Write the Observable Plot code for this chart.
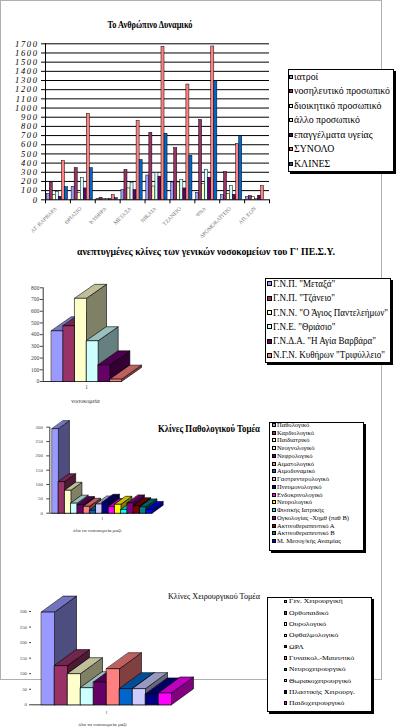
<!DOCTYPE html>
<html><head><meta charset="utf-8">
<script src="https://cdn.jsdelivr.net/npm/d3@7"></script>
<script src="https://cdn.jsdelivr.net/npm/@observablehq/plot@0.6"></script>
<style>
body{margin:0;background:#fff;}
#page{position:relative;width:397px;height:727px;overflow:hidden;background:#fff;font-family:"Liberation Serif","Times New Roman",serif;color:#000;}
.frame{position:absolute;left:0;top:0;width:382px;height:680px;border:1px solid #b0b0b0;box-sizing:border-box;}
.chart{position:absolute;}
.legend{position:absolute;background:#fff;border:1px solid #000;box-shadow:2px 2px 0 #000;box-sizing:border-box;}
</style>
</head><body><div id="page"><div class="frame"></div></div>
<script>
// ---------- DATA ----------
const hospitals = ["ΑΓ. ΒΑΡΒΑΡΑ","ΘΡΙΑΣΙΟ","ΚΥΘΗΡΑ","ΜΕΤΑΞΑ","ΝΙΚΑΙΑ","ΤΖΑΝΕΙΟ","ΨΝΑ","ΔΡΟΜΟΚΑΪΤΕΙΟ","ΑΠ. ΕΟΝ"];
const staffSeries = ["ιατροί","νοσηλευτικό προσωπικό","διοικητικό προσωπικό","άλλο προσωπικό","επαγγέλματα υγείας","ΣΥΝΟΛΟ","ΚΛΙΝΕΣ"];
const doctors    = [65, 142, 11, 106, 265, 189, 76, 51, 29];
const nursing    = [190, 346, 22, 324, 730, 564, 870, 302, 40];
const admin      = [50, 73, 7, 124, 145, 189, 175, 66, 29];
const otherStaff = [87, 237, 7, 186, 294, 218, 328, 149, 11];
const healthProf = [33, 124, 7, 106, 252, 124, 240, 55, 44];
const total      = [422, 935, 51, 859, 1668, 1256, 1671, 608, 149];
const beds       = [138, 346, 18, 433, 720, 480, 1292, 695, 0];
const staffTicks = [0,100,200,300,400,500,600,700,800,900,1000,1100,1200,1300,1400,1500,1600,1700];

const generalHospitals = ['Γ.Ν.Π. "Μεταξά"','Γ.Ν.Π. "Τζάνειο"','Γ.Ν.Ν. "Ο Άγιος Παντελεήμων"','Γ.Ν.Ε. "Θριάσιο"','Γ.Ν.Δ.Α. "Η Αγία Βαρβάρα"','Ν.Γ.Ν. Κυθήρων "Τριφύλλειο"'];
const developedBeds = [433, 476, 710, 348, 142, 20];
const bedTicks = [0,100,200,300,400,500,600,700,800];

const pathologyClinics = ["Παθολογικό","Καρδιολογικό","Παιδιατρικό","Νεογνολογικό","Νεφρολογικό","Αιματολογικό","Αιμοδυναμικό","Γαστρεντερολογικό","Πνευμονολογικό","Ενδοκρινολογικό","Νευρολογικό","Φυσικής Ιατρικής","Ογκολογίας -Χημθ (παθ Β)","Ακτινοθεραπευτικό Α","Ακτινοθεραπευτικό Β","Μ. Μεσογ/κής Αναιμίας"];
const pathologyBeds = [295, 110, 80, 35, 30, 24, 10, 32, 38, 23, 31, 13, 36, 26, 22, 13];

const surgeryClinics = ["Γεν. Χειρουργική","Ορθοπαιδικό","Ουρολογικό","Οφθαλμολογικό","ΩΡΛ","Γυναικολ.-Μαιευτικό","Νευροχειρουργικό","Θωρακοχειρουργικό","Πλαστικής Χειρουργ.","Παιδοχειρουργικό"];
const surgeryBeds = [298, 126, 100, 55, 73, 116, 52, 52, 35, 38];
const clinicTicks = [0,50,100,150,200,250,300];

const palette = ["#9999ff","#993366","#ffffcc","#ccffff","#660066","#ff8080","#0066cc","#ccccff","#000080","#ff00ff","#ffff00","#00ffff","#800080","#800000","#008080","#0000ff"];

// ---------- HELPERS ----------
const page = document.getElementById("page");
const FONT = '"Liberation Serif","Times New Roman",serif';

function place(node, left, top) {
  const d = document.createElement("div");
  d.className = "chart";
  d.style.left = left + "px"; d.style.top = top + "px";
  d.appendChild(node);
  page.appendChild(d);
}

function addTitle(txt, cx, cy, size, weight, targetW) {
  const el = document.createElement("div");
  el.textContent = txt;
  Object.assign(el.style, {position:"absolute", left:cx+"px", top:cy+"px", fontSize:size+"px", fontWeight:weight, whiteSpace:"nowrap", lineHeight:"1", transformOrigin:"0 0"});
  page.appendChild(el);
  const r = el.getBoundingClientRect();
  const s = targetW ? targetW / r.width : 1;
  el.style.transform = `translate(${-r.width*s/2}px, ${-r.height/2}px) scale(${s},1)`;
}

function addLegend(labels, colors, o) {
  const box = document.createElement("div");
  box.className = "legend";
  Object.assign(box.style, {left:o.left+"px", top:o.top+"px", width:o.width+"px", height:o.height+"px"});
  page.appendChild(box);
  const texts = [];
  labels.forEach((lab, i) => {
    const cy = o.row0 + i*o.step - o.top - 1;
    const key = document.createElement("div");
    Object.assign(key.style, {position:"absolute", left:(o.keyX-o.left-1)+"px", top:(cy - o.key/2)+"px", width:o.key+"px", height:o.key+"px", background:colors[i], border:"1px solid #000", boxSizing:"border-box"});
    box.appendChild(key);
    const t = document.createElement("div");
    t.textContent = lab;
    Object.assign(t.style, {position:"absolute", left:(o.textX-o.left-1)+"px", top:cy+"px", fontSize:o.font+"px", whiteSpace:"nowrap", lineHeight:"1", transformOrigin:"0 0"});
    box.appendChild(t);
    texts.push(t);
  });
  const natural = d3.max(texts, t => t.getBoundingClientRect().width);
  const sx = o.maxW ? o.maxW / natural : 1;
  texts.forEach(t => {
    const h = t.getBoundingClientRect().height;
    t.style.transform = `translate(0, ${-h/2}px) scale(${sx},1)`;
  });
}

function shade(c, k) { const r = d3.rgb(c); return d3.rgb(r.r*k, r.g*k, r.b*k).formatHex(); }

// 3D column chart; geometry given in pixels, values in data units
function bars3D(values, colors, g) {
  const pxY = (g.y0 - g.yTop) / g.yMax;
  const dxU = g.depthX / g.barW, dyU = g.depthY / pxY;
  const x0 = -(g.barLeft - g.axisX) / g.barW;
  const x1 = x0 + (g.width - g.axisX - g.marginRight) / g.barW;
  const faces = [];
  values.forEach((v, i) => {
    const a = i, b = i + 1, c = colors[i];
    const poly = (id, fill, pts) => pts.forEach(([x, y]) => faces.push({id, fill, x, y}));
    poly("s"+i, shade(c, 0.5), [[b,0],[b+dxU,dyU],[b+dxU,v+dyU],[b,v]]);
    poly("t"+i, shade(c, 0.75), [[a,v],[b,v],[b+dxU,v+dyU],[a+dxU,v+dyU]]);
    poly("f"+i, c, [[a,0],[b,0],[b,v],[a,v]]);
  });
  const n = values.length;
  const marks = [
    Plot.ruleY([0], {x1: x0, x2: n, stroke: "#000", strokeWidth: 0.8}),
    Plot.line(faces, {x: "x", y: "y", z: "id", fill: "fill", stroke: "#000", strokeWidth: 0.6, curve: "linear-closed"}),
    Plot.text([{x: n/2, y: 0, t: "1"}], {x: "x", y: "y", text: "t", dy: g.oneDy, fontSize: g.labelFont, fill: "#555"}),
    Plot.text([{x: n/2, y: 0, t: g.xLabel}], {x: "x", y: "y", text: "t", dy: g.labelDy, dx: g.labelDx, fontSize: g.labelFont, fill: "#333"})
  ];
  if (g.axisLine) marks.unshift(Plot.ruleX([x0], {y1: 0, y2: g.yMax, stroke: "#000", strokeWidth: 0.8}));
  return Plot.plot({
    width: g.width, height: g.height,
    marginLeft: g.axisX, marginRight: g.marginRight, marginTop: g.yTop, marginBottom: g.height - g.y0,
    x: {domain: [x0, x1], axis: null},
    y: {domain: [0, g.yMax], ticks: g.ticks, tickSize: g.tickSize, tickPadding: g.tickPadding, tickFormat: d => String(d), label: null},
    style: {background: "transparent", fontFamily: FONT, fontSize: g.tickFont + "px", color: "#444", overflow: "visible"},
    marks
  });
}

// ---------- CHART 1 : grouped bars ----------
const staffValues = [doctors, nursing, admin, otherStaff, healthProf, total, beds];
const staffRows = [];
hospitals.forEach((h, gi) => staffValues.forEach((arr, si) => {
  staffRows.push({h, s: staffSeries[si], x1: gi + 0.05 + si*0.122, x2: gi + 0.05 + (si+1)*0.122, y1: 0, v: arr[gi], color: palette[si]});
}));
const chart1 = Plot.plot({
  width: 290, height: 240,
  marginLeft: 45, marginRight: 21, marginTop: 43.3, marginBottom: 40.7,
  x: {domain: [0, hospitals.length], ticks: d3.range(0, hospitals.length + 1), tickFormat: () => "", tickSize: 4},
  y: {domain: [0, 1700], ticks: staffTicks, tickSize: 4, tickPadding: 3, tickFormat: d => String(d), label: null},
  style: {background: "transparent", fontFamily: FONT, fontSize: "8px", fontStyle: "italic", color: "#000", overflow: "visible"},
  marks: [
    Plot.ruleY(staffTicks, {stroke: "#000", strokeWidth: 1}),
    Plot.ruleX([0], {stroke: "#000"}),
    Plot.rect(staffRows, {x1: "x1", x2: "x2", y1: "y1", y2: "v", fill: "color", stroke: "#000", strokeWidth: 0.5}),
    Plot.text(hospitals, {x: (d, i) => i + 0.5, y: () => 0, text: d => d, rotate: -45, textAnchor: "end", dx: -2, dy: 8, fontSize: 5.5, fill: "#777", fontStyle: "normal"})
  ]
});
// widen the y tick labels like the reference's
d3.select(chart1).selectAll("g[aria-label='y-axis tick label'] text").attr("letter-spacing", 1.6).style("font-size", "8.5px");
place(chart1, 0, 0);
addTitle("Το Ανθρώπινο Δυναμικό", 150, 25, 10, "bold", 85);
addLegend(staffSeries, palette.slice(0, 7), {left: 288, top: 69, width: 106, height: 103, row0: 76.5, step: 14.5, keyX: 289, key: 4, textX: 293.5, font: 10, maxW: 96});

// ---------- CHART 2 ----------
addTitle("ανεπτυγμένες κλίνες των γενικών νοσοκομείων του Γ' ΠΕ.Σ.Υ.", 206, 253, 9.5, "bold", 258);
place(bars3D(developedBeds, palette.slice(0, 6), {
  width: 160, height: 136, axisX: 42.7, barLeft: 51, barW: 11.67, marginRight: 8,
  yTop: 17.3, y0: 111, yMax: 800, ticks: bedTicks, tickSize: 3, tickPadding: 1, tickFont: 5.5,
  depthX: 20, depthY: 14, axisLine: true, oneDy: 6, labelDy: 19.7, labelDx: -1, labelFont: 6, xLabel: "νοσοκομεία"
}), 0, 270);
addLegend(generalHospitals, palette.slice(0, 6), {left: 265.3, top: 278.3, width: 126, height: 85, row0: 284, step: 14.3, keyX: 267, key: 5, textX: 273.3, font: 10, maxW: 115});

// ---------- CHART 3 ----------
addTitle("Κλίνες Παθολογικού Τομέα", 209, 429, 10.5, "bold", 102);
place(bars3D(pathologyBeds, palette.slice(0, 16), {
  width: 170, height: 136, axisX: 49.3, barLeft: 51.7, barW: 6.25, marginRight: 8,
  yTop: 26.7, y0: 112.7, yMax: 300, ticks: clinicTicks, tickSize: 3, tickPadding: 4, tickFont: 4.8,
  depthX: 11, depthY: 8, axisLine: true, oneDy: 5.5, labelDy: 17.3, labelDx: -5, labelFont: 5, xLabel: "όλα τα νοσοκομεία μαζί"
}), 0, 400);
addLegend(pathologyClinics, palette.slice(0, 16), {left: 269, top: 421.7, width: 95, height: 129.3, row0: 425, step: 7.75, keyX: 271.7, key: 4, textX: 277.3, font: 6.5, maxW: 72});

// ---------- CHART 4 ----------
addTitle("Κλίνες Χειρουργικού Τομέα", 214, 596, 9, "normal", 92);
place(bars3D(surgeryBeds, palette.slice(0, 10), {
  width: 210, height: 147, axisX: 31, barLeft: 41, barW: 13, marginRight: 8,
  yTop: 31, y0: 124.3, yMax: 300, ticks: clinicTicks, tickSize: 2, tickPadding: 2.5, tickFont: 4.8,
  depthX: 22, depthY: 16, axisLine: false, oneDy: 7.4, labelDy: 19.7, labelDx: -4, labelFont: 5, xLabel: "όλα τα νοσοκομεία μαζί"
}), 0, 580);
addLegend(surgeryClinics, palette.slice(0, 10), {left: 267.3, top: 597.3, width: 104.4, height: 114.4, row0: 601.5, step: 11.3, keyX: 284, key: 3.5, textX: 289, font: 6.5, maxW: 66});
</script>
</body></html>
